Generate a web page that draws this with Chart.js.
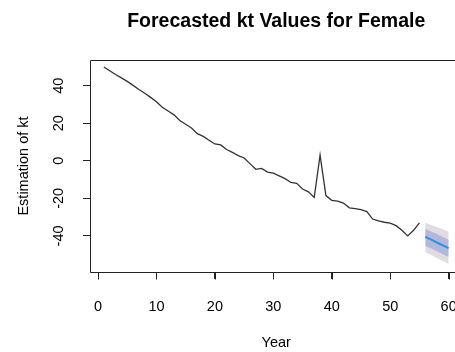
<!DOCTYPE html>
<html>
<head>
<meta charset="utf-8">
<script src="https://cdn.jsdelivr.net/npm/chart.js@4"></script>
<style>
  html, body { margin: 0; padding: 0; background: #fff; overflow: hidden; }
  #wrap { width: 476px; height: 352px; }
</style>
</head>
<body>
<div id="wrap"><canvas id="ktChart" width="476" height="352"></canvas></div>
<script>
// data
const histYears = [1,2,3,4,5,6,7,8,9,10,11,12,13,14,15,16,17,18,19,20,21,22,23,24,25,26,27,28,29,30,
  31,32,33,34,35,36,37,38,39,40,41,42,43,44,45,46,47,48,49,50,51,52,53,54,55];
const histKt = [50,48,46,44.2,42.3,40.2,38,36,33.8,31.5,28.5,26.5,24.5,21.5,19.5,17.5,14.5,13,11,9,
  8.5,6,4.5,2.8,1.5,-1.5,-4.5,-4,-6,-6.5,-8,-9.5,-11.5,-12,-15,-16.5,-19.5,3,-18.5,-21,
  -21.5,-22.5,-25,-25.5,-26,-27,-31,-32,-32.7,-33.2,-34.5,-37,-40,-37,-33];
const fcYears = [56,57,58,59,60];
const fcMean = [-40.5,-42,-43.5,-45,-46.5];
const hi80 = [-36.2,-37.6,-39.0,-40.5,-42.0];
const lo80 = [-45.2,-46.7,-48.2,-49.7,-51.2];
const hi95 = [-33.0,-34.2,-35.3,-36.5,-37.7];
const lo95 = [-48.5,-50.2,-51.8,-53.4,-55.0];
const xTicks = [0,10,20,30,40,50,60];
const yTicks = [-40,-20,0,20,40];
const mainTitle = 'Forecasted kt Values for Female';

const pts = (xs, ys) => xs.map((x, i) => ({ x: x, y: ys[i] }));

const family = '"Liberation Sans", Arial, sans-serif';
const font = { family: family, size: 14.5 };

// R style box, x tick marks from the x scale, and the main title centred over the plot
const rBox = {
  id: 'rBox',
  afterDraw(chart) {
    const a = chart.chartArea, c = chart.ctx, sx = chart.scales.x;
    const l = Math.round(a.left) + 0.5, t = Math.round(a.top) + 0.5;
    const r = Math.round(a.right) + 0.5, b = Math.round(a.bottom) + 0.5;
    c.save();
    c.strokeStyle = '#222';
    c.lineWidth = 1;
    c.beginPath();
    c.rect(l, t, r - l, b - t);
    xTicks.forEach(v => {
      const px = Math.round(sx.getPixelForValue(v)) + 0.5;
      c.moveTo(px, b);
      c.lineTo(px, b + 7);
    });
    c.stroke();
    c.fillStyle = '#000';
    c.font = 'bold 19.5px ' + family;
    c.textAlign = 'center';
    c.textBaseline = 'middle';
    c.fillText(mainTitle, (a.left + a.right) / 2, 22);
    c.restore();
  }
};

new Chart(document.getElementById('ktChart'), {
  type: 'line',
  data: {
    datasets: [
      { data: pts(histYears, histKt), borderColor: '#333', borderWidth: 1.3, pointRadius: 0, order: 0 },
      { data: pts(fcYears, fcMean), borderColor: '#2297E6', borderWidth: 2, pointRadius: 0, order: 1 },
      { data: pts(fcYears, hi80), borderWidth: 0, pointRadius: 0, fill: 3, backgroundColor: '#b4b6da', order: 2 },
      { data: pts(fcYears, lo80), borderWidth: 0, pointRadius: 0, order: 3 },
      { data: pts(fcYears, hi95), borderWidth: 0, pointRadius: 0, fill: 5, backgroundColor: '#dddde2', order: 4 },
      { data: pts(fcYears, lo95), borderWidth: 0, pointRadius: 0, order: 5 }
    ]
  },
  options: {
    responsive: false,
    animation: false,
    layout: { padding: { top: 60, right: 8, bottom: 0, left: 0 } },
    plugins: {
      legend: { display: false },
      tooltip: { enabled: false },
      title: { display: false }
    },
    scales: {
      x: {
        type: 'linear',
        min: -1.37, max: 62.36,
        afterBuildTicks: s => { s.ticks = xTicks.map(v => ({ value: v })); },
        afterFit: s => { s.height = 80; },
        border: { display: false },
        grid: { drawOnChartArea: false, tickLength: 7, tickColor: '#222', tickWidth: 1 },
        ticks: { color: '#000', font: font, padding: 19, maxRotation: 0 },
        title: { display: true, text: 'Year', color: '#000', font: font, padding: { top: 0, bottom: 0 } }
      },
      y: {
        min: -59.2, max: 53.7,
        afterBuildTicks: s => { s.ticks = yTicks.map(v => ({ value: v })); },
        afterFit: s => { s.width = 90; },
        border: { display: false },
        grid: { drawOnChartArea: false, tickLength: 7, tickColor: '#222', tickWidth: 1 },
        ticks: { color: '#000', font: font, padding: 14, minRotation: 90, maxRotation: 90, crossAlign: 'center' },
        title: { display: true, text: 'Estimation of kt', color: '#000', font: font, padding: { top: 15, bottom: 0 } }
      }
    }
  },
  plugins: [rBox]
});
</script>
</body>
</html>
